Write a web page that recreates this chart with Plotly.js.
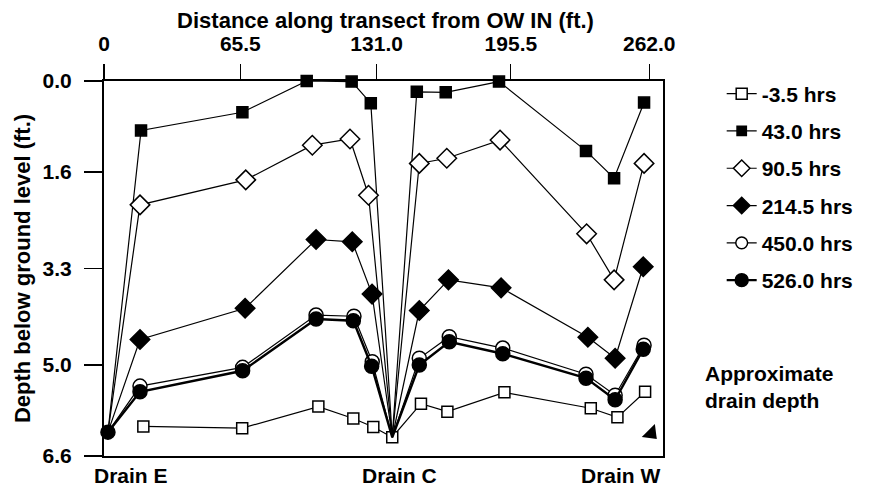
<!DOCTYPE html>
<html>
<head>
<meta charset="utf-8">
<script src="https://cdn.plot.ly/plotly-3.0.1.min.js"></script>
<style>html,body{margin:0;padding:0;background:#fff;}#chart{width:879px;height:487px;}</style>
</head>
<body>
<div id="chart"></div>
<script>
// Series names (hours)
const seriesNames = ['-3.5 hrs', '43.0 hrs', '90.5 hrs', '214.5 hrs', '450.0 hrs', '526.0 hrs'];

// Distance along transect (ft) and depth below ground level (ft) per series
const x_m3_5 = [18.9, 66.4, 103.0, 119.8, 129.4, 138.5, 152.3, 165.0, 192.4, 233.9, 246.7, 260.0];
const y_m3_5 = [6.08, 6.11, 5.73, 5.94, 6.09, 6.27, 5.68, 5.82, 5.48, 5.76, 5.92, 5.47];

const x_43_0 = [1.9, 17.8, 66.5, 97.4, 119.0, 128.2, 138.5, 150.3, 164.2, 189.8, 231.6, 245.1, 259.5];
const y_43_0 = [6.18, 0.87, 0.55, 0.0, 0.01, 0.39, 6.27, 0.19, 0.20, 0.01, 1.23, 1.71, 0.38];

const x_90_5 = [1.9, 17.3, 68.1, 100.1, 118.2, 127.1, 138.5, 151.5, 164.7, 190.3, 231.9, 245.1, 259.5];
const y_90_5 = [6.18, 2.18, 1.74, 1.13, 1.02, 2.01, 6.27, 1.45, 1.36, 1.04, 2.69, 3.50, 1.45];

const x_214_5 = [1.9, 17.3, 67.8, 101.9, 119.3, 128.8, 138.5, 151.5, 165.5, 190.8, 232.5, 245.6, 259.1];
const y_214_5 = [6.18, 4.55, 4.00, 2.79, 2.83, 3.75, 6.27, 4.04, 3.50, 3.64, 4.51, 4.88, 3.27];

const x_450_0 = [1.9, 17.3, 66.6, 101.9, 120.1, 128.9, 138.5, 151.5, 165.9, 191.6, 231.6, 245.6, 259.5];
const y_450_0 = [6.18, 5.37, 5.04, 4.12, 4.14, 4.94, 6.27, 4.88, 4.50, 4.70, 5.16, 5.53, 4.65];

const x_526_0 = [1.9, 17.3, 66.6, 101.9, 119.8, 128.6, 138.5, 151.5, 165.9, 191.6, 231.6, 245.6, 259.1];
const y_526_0 = [6.18, 5.47, 5.10, 4.19, 4.22, 5.02, 6.27, 5.00, 4.59, 4.80, 5.23, 5.61, 4.72];

// Drain positions (ft) where lines converge
const drainEX = 1.9;
const drainCX = 138.5;

// Approximate drain depth marker
const drainDepthX = [262.9];
const drainDepthY = [6.2];

// Axis ticks
const xTickVals = [0, 65.5, 131.0, 195.5, 262.0];
const xTickText = ['0', '65.5', '131.0', '195.5', '262.0'];
const yTickVals = [0, 1.6, 3.3, 5.0, 6.6];
const yTickText = ['0.0', '1.6', '3.3', '5.0', '6.6'];

const FONT = 'Liberation Sans, Arial, Helvetica, sans-serif';

// hide markers at drain points for series whose marker is covered in the original
function sizesFor(xs, base, hideE, hideC) {
  return xs.map(v => ((hideE && v === drainEX) || (hideC && v === drainCX)) ? 0 : base);
}

const styles = [
  {x: x_m3_5, y: y_m3_5, symbol: 'square', open: true, size: 11, lw: 1.2, hideE: false, hideC: false},
  {x: x_43_0, y: y_43_0, symbol: 'square', open: false, size: 11, lw: 1.2, hideE: true, hideC: true},
  {x: x_90_5, y: y_90_5, symbol: 'diamond', open: true, size: 15, lw: 1.2, hideE: true, hideC: true},
  {x: x_214_5, y: y_214_5, symbol: 'diamond', open: false, size: 15, lw: 1.2, hideE: true, hideC: true},
  {x: x_450_0, y: y_450_0, symbol: 'circle', open: true, size: 14, lw: 1.2, hideE: true, hideC: true},
  {x: x_526_0, y: y_526_0, symbol: 'circle', open: false, size: 14, lw: 2.4, hideE: false, hideC: true}
];

const traces = styles.map((s, i) => ({
  type: 'scatter',
  mode: 'lines+markers',
  name: seriesNames[i],
  x: s.x,
  y: s.y,
  legendgroup: 'g' + i,
  cliponaxis: false,
  opacity: 1,
  line: {color: '#000000', width: s.lw},
  marker: {
    symbol: s.symbol,
    size: sizesFor(s.x, s.size, s.hideE, s.hideC),
    color: s.open ? '#ffffff' : '#000000',
    opacity: 1,
    line: {color: '#000000', width: 1.5}
  }
}));

traces.push({
  type: 'scatter',
  mode: 'markers',
  x: drainDepthX,
  y: drainDepthY,
  showlegend: false,
  hoverinfo: 'skip',
  cliponaxis: false,
  marker: {symbol: 'triangle-right', angle: 45, size: 16, color: '#000000', opacity: 1}
});

const layout = {
  width: 879,
  height: 487,
  paper_bgcolor: '#ffffff',
  plot_bgcolor: '#ffffff',
  margin: {l: 104, r: 216, t: 81, b: 31},
  font: {family: FONT, size: 21, color: '#000000', weight: 'bold'},
  title: {
    text: 'Distance along transect from OW IN (ft.)',
    font: {family: FONT, size: 22, weight: 'bold', color: '#000000'},
    xref: 'container', yref: 'container',
    x: 385.5 / 879, xanchor: 'center',
    y: 1 - 20 / 487, yanchor: 'middle'
  },
  showlegend: true,
  legend: {
    x: 1.105, y: 1.02, xanchor: 'left', yanchor: 'top',
    font: {family: FONT, size: 21, color: '#000000', weight: 'bold'},
    tracegroupgap: 7,
    bgcolor: 'rgba(0,0,0,0)'
  },
  xaxis: {
    side: 'top',
    range: [0, 268.6],
    tickmode: 'array',
    tickvals: xTickVals,
    ticktext: xTickText,
    ticks: 'outside',
    ticklen: 15,
    tickwidth: 1.2,
    tickcolor: '#000000',
    ticklabelstandoff: 5,
    showline: true,
    linecolor: '#000000',
    linewidth: 2,
    mirror: true,
    showgrid: false,
    zeroline: false,
    tickfont: {family: FONT, size: 21, weight: 'bold'}
  },
  yaxis: {
    range: [6.6, 0],
    tickmode: 'array',
    tickvals: yTickVals,
    ticktext: yTickText,
    ticks: 'outside',
    ticklen: 18,
    tickwidth: 1.2,
    tickcolor: '#000000',
    ticklabelstandoff: 8,
    showline: true,
    linecolor: '#000000',
    linewidth: 2,
    mirror: true,
    showgrid: false,
    zeroline: false,
    tickfont: {family: FONT, size: 21, weight: 'bold'},
    title: {text: 'Depth below ground level (ft.)', font: {family: FONT, size: 22, weight: 'bold'}, standoff: 6}
  },
  annotations: [
    {xref: 'x', yref: 'paper', x: 0, y: -0.053, xanchor: 'left', yanchor: 'middle', xshift: -12, text: 'Drain E', showarrow: false, font: {family: FONT, size: 21, weight: 'bold'}},
    {xref: 'x', yref: 'paper', x: drainCX, y: -0.053, xanchor: 'center', yanchor: 'middle', xshift: 7, text: 'Drain C', showarrow: false, font: {family: FONT, size: 21, weight: 'bold'}},
    {xref: 'paper', yref: 'paper', x: 1.0, y: -0.053, xanchor: 'right', yanchor: 'middle', text: 'Drain W', showarrow: false, font: {family: FONT, size: 21, weight: 'bold'}},
    {xref: 'paper', yref: 'paper', x: 1.0716, y: 0.183, xanchor: 'left', yanchor: 'middle', align: 'left', text: 'Approximate<br>drain depth', showarrow: false, font: {family: FONT, size: 21, weight: 'bold'}}
  ]
};

Plotly.newPlot('chart', traces, layout, {displayModeBar: false, staticPlot: true});
</script>
</body>
</html>
